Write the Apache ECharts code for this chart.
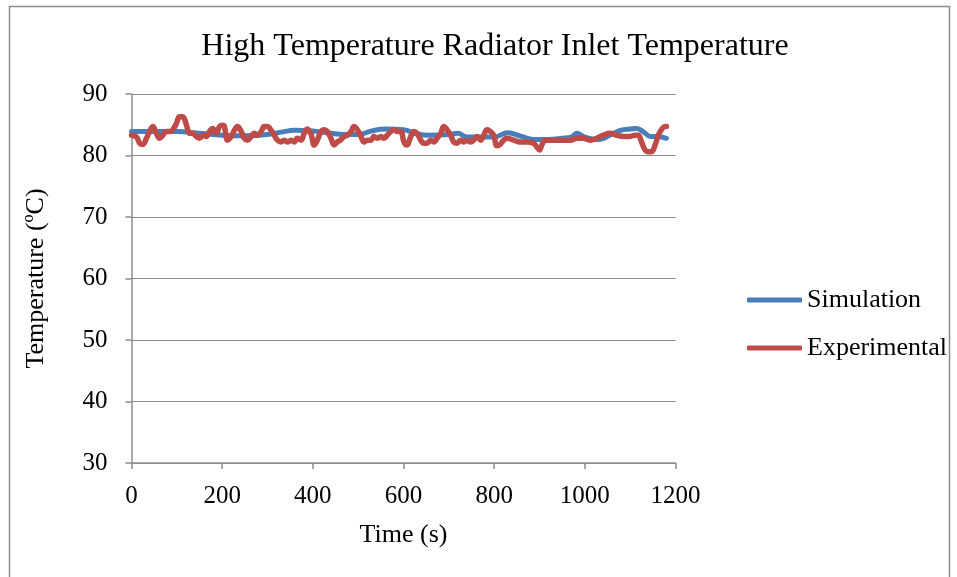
<!DOCTYPE html>
<html>
<head>
<meta charset="utf-8">
<script src="https://cdn.jsdelivr.net/npm/echarts@6/dist/echarts.min.js"></script>
<style>
  html, body { margin: 0; padding: 0; background: #fff; }
  #chart { width: 957px; height: 577px; }
</style>
</head>
<body>
<div id="chart"></div>
<script>
// Simulated inlet temperature (s, °C)
const simTime = [0, 50, 100, 150, 200, 250, 300, 330, 360, 400, 430, 470, 500, 530, 560, 600, 630, 660, 700, 720, 740, 780, 800, 830, 860, 890, 920, 950, 970, 982, 1000, 1030, 1060, 1080, 1100, 1115, 1130, 1145, 1160, 1180];
const simTemp = [83.9, 83.9, 83.9, 83.6, 83.3, 83.2, 83.4, 83.8, 84.1, 84.0, 83.7, 83.4, 83.4, 84.0, 84.3, 84.2, 83.5, 83.3, 83.4, 83.6, 83.0, 83.0, 83.0, 83.7, 83.1, 82.6, 82.6, 82.8, 83.0, 83.6, 83.0, 82.6, 83.5, 84.1, 84.3, 84.4, 83.8, 83.1, 83.1, 82.8];

// Measured inlet temperature (s, °C)
const expTime = [0, 11, 18, 25, 33, 40, 47, 55, 62, 69, 77, 84, 91, 99, 106, 113, 121, 128, 135, 143, 150, 157, 165, 172, 179, 187, 194, 201, 205, 212, 220, 227, 234, 242, 249, 256, 264, 271, 278, 286, 293, 300, 308, 315, 322, 330, 337, 344, 352, 359, 366, 374, 381, 388, 396, 403, 410, 418, 425, 432, 440, 447, 454, 461, 469, 476, 484, 491, 498, 506, 513, 520, 528, 535, 542, 550, 557, 564, 572, 579, 586, 594, 601, 608, 616, 623, 630, 638, 645, 652, 660, 667, 674, 682, 689, 696, 704, 711, 718, 726, 733, 740, 748, 755, 762, 770, 777, 784, 792, 799, 806, 813, 821, 828, 843, 857, 872, 887, 894, 900, 905, 913, 924, 938, 953, 968, 982, 997, 1012, 1026, 1041, 1056, 1070, 1085, 1100, 1111, 1118, 1125, 1133, 1140, 1147, 1155, 1162, 1169, 1177, 1180];
const expTemp = [83.3, 83.0, 82.0, 81.8, 82.8, 83.9, 84.7, 83.6, 82.8, 83.3, 83.9, 83.9, 84.2, 85.2, 86.3, 86.3, 85.0, 83.6, 83.6, 83.1, 82.8, 83.3, 83.1, 83.9, 84.4, 83.6, 84.7, 84.9, 84.7, 82.5, 83.1, 84.1, 84.7, 83.9, 82.8, 82.5, 83.1, 83.6, 83.3, 83.9, 84.7, 84.7, 84.1, 83.3, 82.5, 82.2, 82.5, 82.2, 82.5, 82.2, 82.8, 82.5, 83.6, 84.3, 83.5, 81.7, 82.5, 83.9, 84.2, 83.9, 82.8, 81.7, 82.2, 82.5, 83.1, 83.3, 83.9, 84.7, 84.2, 83.1, 82.2, 82.5, 82.5, 83.1, 82.8, 83.1, 82.8, 83.3, 83.9, 84.2, 83.9, 83.9, 82.2, 81.7, 83.1, 83.9, 83.6, 82.5, 82.0, 82.0, 82.5, 82.2, 82.8, 83.6, 84.7, 84.2, 83.3, 82.2, 82.0, 82.5, 82.2, 82.5, 82.2, 82.5, 83.1, 82.5, 83.3, 84.2, 83.9, 83.3, 81.6, 81.8, 82.5, 82.8, 82.5, 82.2, 82.2, 82.0, 81.4, 80.9, 81.7, 82.5, 82.5, 82.5, 82.5, 82.5, 82.8, 82.8, 82.5, 82.8, 83.3, 83.6, 83.3, 83.1, 83.1, 83.3, 83.3, 82.2, 80.9, 80.6, 80.6, 81.7, 83.3, 84.2, 84.7, 84.7];

const seriesNames = ['Simulation', 'Experimental'];
const titleText = 'High Temperature Radiator Inlet Temperature';
const xName = 'Time (s)';
const yName = 'Temperature (ºC)';

const pairs = (xs, ys) => xs.map((x, i) => [x, ys[i]]);

const FONT = '"Liberation Serif", "Times New Roman", serif';
const GRAY = '#8c8c8c';

const chart = echarts.init(document.getElementById('chart'), null, { renderer: 'canvas' });
chart.setOption({
  backgroundColor: '#ffffff',
  animation: false,
  textStyle: { fontFamily: FONT, color: '#000' },
  graphic: [{
    type: 'rect',
    shape: { x: 9.5, y: 6.5, width: 940, height: 620 },
    style: { fill: 'none', stroke: GRAY, lineWidth: 1.5 },
    silent: true
  }],
  title: {
    text: titleText,
    left: 490, top: 26,
    textAlign: 'center',
    textStyle: { fontFamily: FONT, fontSize: 32, fontWeight: 'normal', color: '#000' }
  },
  legend: {
    orient: 'vertical',
    left: 742, top: 282,
    itemGap: 22,
    itemWidth: 55, itemHeight: 5,
    icon: 'roundRect',
    textStyle: { fontFamily: FONT, fontSize: 26, lineHeight: 26, color: '#000' },
    data: seriesNames
  },
  grid: { left: 131.5, right: 281.5, top: 94, bottom: 114, containLabel: false },
  xAxis: {
    type: 'value',
    min: 0, max: 1200, interval: 200,
    name: xName, nameLocation: 'middle', nameGap: 59,
    nameTextStyle: { fontFamily: FONT, fontSize: 26, color: '#000' },
    axisLine: { show: true, lineStyle: { color: GRAY, width: 1.5 } },
    axisTick: { show: true, length: 6, lineStyle: { color: GRAY, width: 1.5 } },
    axisLabel: { fontFamily: FONT, fontSize: 25, color: '#000', margin: 21, formatter: v => String(v) },
    splitLine: { show: false }
  },
  yAxis: {
    type: 'value',
    min: 30, max: 90, interval: 10,
    name: yName, nameLocation: 'middle', nameGap: 82, nameRotate: 90,
    nameTextStyle: { fontFamily: FONT, fontSize: 26, color: '#000' },
    axisLine: { show: true, lineStyle: { color: GRAY, width: 1.5 } },
    axisTick: { show: true, length: 6, lineStyle: { color: GRAY, width: 1.5 } },
    axisLabel: { fontFamily: FONT, fontSize: 25, color: '#000', margin: 24 },
    splitLine: { show: true, lineStyle: { color: GRAY, width: 1.2 } }
  },
  series: [
    {
      name: seriesNames[0], type: 'line',
      data: pairs(simTime, simTemp),
      showSymbol: false, smooth: 0.4,
      lineStyle: { color: '#4A7EBB', width: 5, cap: 'round', join: 'round' },
      itemStyle: { color: '#4A7EBB' },
      z: 2
    },
    {
      name: seriesNames[1], type: 'line',
      data: pairs(expTime, expTemp),
      showSymbol: false, smooth: 0.4,
      lineStyle: { color: '#BE4B48', width: 5.5, cap: 'round', join: 'round' },
      itemStyle: { color: '#BE4B48' },
      z: 3
    }
  ]
});
</script>
</body>
</html>
